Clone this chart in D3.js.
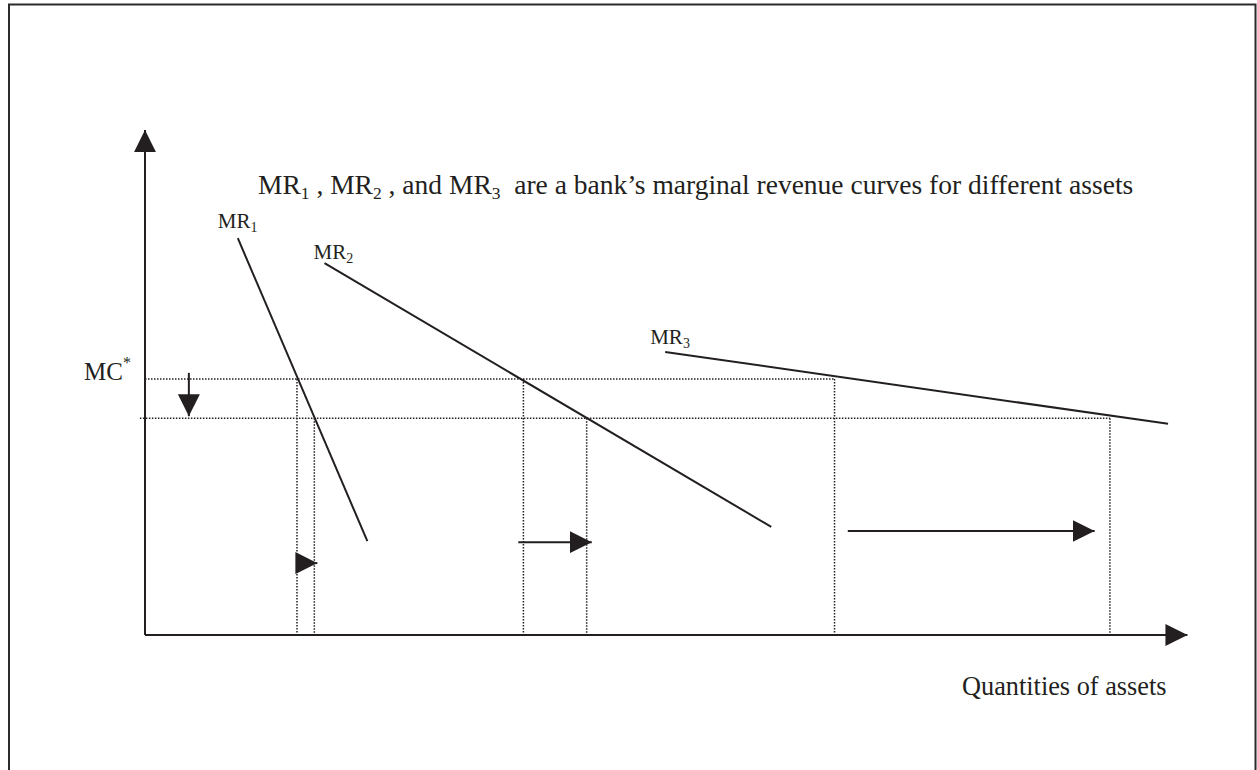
<!DOCTYPE html>
<html>
<head>
<meta charset="utf-8">
<script src="https://cdn.jsdelivr.net/npm/d3@7"></script>
<style>
  html, body { margin: 0; padding: 0; background: #fff; }
  svg { display: block; }
  text { font-family: "Liberation Serif", "Times New Roman", serif; fill: #231f20; white-space: pre; }
</style>
</head>
<body>
<script>
// Marginal revenue curves (quantity, price) endpoints
const curveNames = ["MR1", "MR2", "MR3"];
const curveStart = [[9.1, 77.8], [17.6, 72.9], [51.0, 55.5]];
const curveEnd = [[21.8, 18.4], [61.4, 21.2], [100.3, 41.4]];

// Marginal cost levels: original MC* and the lowered level
const mcLevels = [50.2, 42.5];
// Quantities where each MR curve meets each MC level
const qAtMc = [[14.9, 16.6], [37.1, 43.3], [67.6, 94.6]];
// Horizontal shift arrows: from quantity, to quantity, at height
const shiftFrom = [14.9, 36.6, 68.9];
const shiftTo = [16.9, 43.8, 93.1];
const shiftAt = [14.1, 18.2, 20.4];
// Downward shift of MC
const mcShiftQ = 4.3;
const mcShift = [51.4, 42.9];

const axisMax = { q: 102.2, p: 99.0 };
const titleText = ["MR", "1", " , MR", "2", " , and MR", "3", "  are a bank\u2019s marginal revenue curves for different assets"];
const xAxisLabel = "Quantities of assets";
const yLevelLabel = "MC";

const W = 1257, H = 770;
const svg = d3.select("body").append("svg").attr("width", W).attr("height", H);

const x = d3.scaleLinear().domain([0, 100]).range([145, 1165]);
const y = d3.scaleLinear().domain([0, 100]).range([635, 125]);

const ink = "#231f20";

// Arrowhead marker
const defs = svg.append("defs");
defs.append("marker")
  .attr("id", "head")
  .attr("markerUnits", "userSpaceOnUse")
  .attr("markerWidth", 22).attr("markerHeight", 22)
  .attr("viewBox", "0 -10 20 20")
  .attr("refX", 20).attr("refY", 0)
  .attr("orient", "auto")
  .append("path")
  .attr("d", "M0,-10L20,0L0,10Z")
  .attr("fill", ink);

// Frame
svg.append("rect")
  .attr("x", 9).attr("y", 4.5)
  .attr("width", 1246.5).attr("height", 800)
  .attr("fill", "none").attr("stroke", "#2b2b2b").attr("stroke-width", 2);

// Axes
svg.append("line")
  .attr("x1", x(0)).attr("y1", y(0)).attr("x2", x(0)).attr("y2", y(axisMax.p))
  .attr("stroke", ink).attr("stroke-width", 2).attr("marker-end", "url(#head)");
svg.append("line")
  .attr("x1", x(0)).attr("y1", y(0)).attr("x2", x(axisMax.q)).attr("y2", y(0))
  .attr("stroke", ink).attr("stroke-width", 2).attr("marker-end", "url(#head)");

// Dotted guide lines
const dotted = { stroke: ink, "stroke-width": 1.5, "stroke-dasharray": "1.5 1.5" };
function applyAttrs(sel, attrs) { Object.entries(attrs).forEach(([k, v]) => sel.attr(k, v)); return sel; }

const mcStart = [0, -0.5];
const mcEndQ = [qAtMc[2][0], qAtMc[2][1]];
mcLevels.forEach((lvl, i) => {
  applyAttrs(svg.append("line")
    .attr("x1", x(mcStart[i])).attr("y1", y(lvl))
    .attr("x2", x(mcEndQ[i])).attr("y2", y(lvl)), dotted);
});
qAtMc.forEach(pair => {
  pair.forEach((q, j) => {
    applyAttrs(svg.append("line")
      .attr("x1", x(q)).attr("y1", y(mcLevels[j]))
      .attr("x2", x(q)).attr("y2", y(0)), dotted);
  });
});

// MR curves
const line = d3.line().x(d => x(d[0])).y(d => y(d[1]));
curveNames.forEach((name, i) => {
  svg.append("path")
    .attr("d", line([curveStart[i], curveEnd[i]]))
    .attr("fill", "none").attr("stroke", ink).attr("stroke-width", 2);
});

// Curve labels
const labelOffset = [[-20, -10], [-11, -4], [-15, -8]];
curveNames.forEach((name, i) => {
  const t = svg.append("text")
    .attr("x", x(curveStart[i][0]) + labelOffset[i][0])
    .attr("y", y(curveStart[i][1]) + labelOffset[i][1])
    .attr("font-size", 21);
  t.append("tspan").text(name.slice(0, 2));
  t.append("tspan").attr("font-size", 14).attr("dy", 4).text(name.slice(2));
});

// Shift arrows
shiftFrom.forEach((q0, i) => {
  svg.append("line")
    .attr("x1", x(q0)).attr("y1", y(shiftAt[i]))
    .attr("x2", x(shiftTo[i])).attr("y2", y(shiftAt[i]))
    .attr("stroke", ink).attr("stroke-width", 2).attr("marker-end", "url(#head)");
});
svg.append("line")
  .attr("x1", x(mcShiftQ)).attr("y1", y(mcShift[0]))
  .attr("x2", x(mcShiftQ)).attr("y2", y(mcShift[1]))
  .attr("stroke", ink).attr("stroke-width", 2).attr("marker-end", "url(#head)");

// MC* label
const mc = svg.append("text").attr("x", 84).attr("y", y(mcLevels[0]) + 1).attr("font-size", 25);
mc.append("tspan").text(yLevelLabel);
mc.append("tspan").attr("font-size", 16).attr("dy", -12).text("*");

// Title
const title = svg.append("text").attr("x", 258).attr("y", 194).attr("font-size", 27.5);
titleText.forEach((s, i) => {
  const sub = i % 2 === 1;
  title.append("tspan")
    .attr("font-size", sub ? 17.5 : 27.5)
    .attr("dy", i === 0 ? 0 : (sub ? 5 : -5))
    .text(s);
});

// Horizontal axis label
svg.append("text").attr("x", 962).attr("y", 695).attr("font-size", 26.3).text(xAxisLabel);
</script>
</body>
</html>
